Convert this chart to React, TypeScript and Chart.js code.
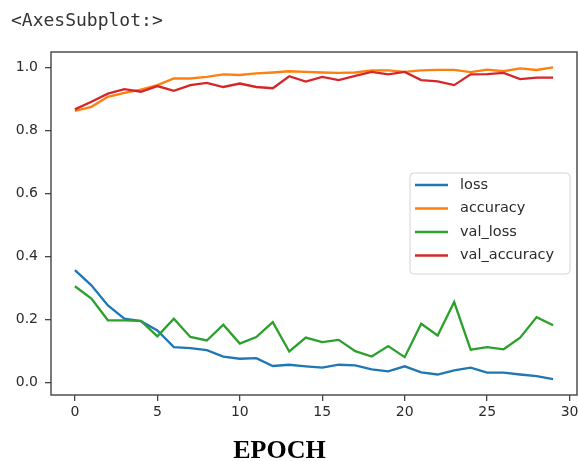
import React, { useEffect, useRef } from "react";
import { Chart, registerables } from "chart.js";

Chart.register(...registerables);

const EPOCHS = [0, 1, 2, 3, 4, 5, 6, 7, 8, 9, 10, 11, 12, 13, 14, 15, 16, 17, 18, 19, 20, 21, 22, 23, 24, 25, 26, 27, 28, 29];
const LOSS = [0.357, 0.309, 0.245, 0.203, 0.195, 0.166, 0.113, 0.110, 0.103, 0.083, 0.076, 0.078, 0.053, 0.057, 0.052, 0.048, 0.057, 0.055, 0.042, 0.036, 0.052, 0.033, 0.026, 0.039, 0.048, 0.032, 0.032, 0.026, 0.021, 0.011];
const ACCURACY = [0.862, 0.875, 0.907, 0.919, 0.930, 0.944, 0.965, 0.965, 0.970, 0.978, 0.976, 0.981, 0.984, 0.988, 0.986, 0.984, 0.983, 0.984, 0.991, 0.991, 0.986, 0.991, 0.992, 0.992, 0.985, 0.993, 0.988, 0.997, 0.992, 1.000];
const VAL_LOSS = [0.306, 0.267, 0.198, 0.198, 0.196, 0.147, 0.203, 0.145, 0.134, 0.184, 0.124, 0.145, 0.192, 0.099, 0.143, 0.129, 0.136, 0.100, 0.083, 0.116, 0.081, 0.187, 0.150, 0.256, 0.105, 0.113, 0.106, 0.143, 0.208, 0.182];
const VAL_ACCURACY = [0.867, 0.891, 0.917, 0.931, 0.923, 0.941, 0.926, 0.944, 0.951, 0.938, 0.949, 0.938, 0.934, 0.972, 0.955, 0.970, 0.960, 0.973, 0.986, 0.978, 0.986, 0.960, 0.956, 0.944, 0.978, 0.979, 0.983, 0.963, 0.968, 0.968];

const SERIES_NAMES = ["loss", "accuracy", "val_loss", "val_accuracy"];
const SERIES_VALUES = [LOSS, ACCURACY, VAL_LOSS, VAL_ACCURACY];
const SERIES_COLORS = ["#1f77b4", "#ff7f0e", "#2ca02c", "#d62728"];

const X_TICKS = [0, 5, 10, 15, 20, 25, 30];
const Y_TICKS = [0.0, 0.2, 0.4, 0.6, 0.8, 1.0];

const SPINE = "#444444";
const TICK_TEXT = "#2b2b2b";

const framePlugin = {
  id: "frameAndLegend",
  afterDraw(chart: any) {
    const { ctx, chartArea } = chart;
    const { left, top, right, bottom } = chartArea;
    ctx.save();
    ctx.strokeStyle = SPINE;
    ctx.lineWidth = 1.4;
    ctx.strokeRect(left, top, right - left, bottom - top);

    // legend (matplotlib "center right")
    const fontSize = 14.5;
    ctx.font = `${fontSize}px "DejaVu Sans"`;
    const rowH = 23.5;
    const boxW = 160;
    const boxH = 101;
    const bx = right - 7 - boxW;
    const by = (top + bottom) / 2 - boxH / 2;
    const r = 4;
    ctx.beginPath();
    ctx.moveTo(bx + r, by);
    ctx.lineTo(bx + boxW - r, by);
    ctx.quadraticCurveTo(bx + boxW, by, bx + boxW, by + r);
    ctx.lineTo(bx + boxW, by + boxH - r);
    ctx.quadraticCurveTo(bx + boxW, by + boxH, bx + boxW - r, by + boxH);
    ctx.lineTo(bx + r, by + boxH);
    ctx.quadraticCurveTo(bx, by + boxH, bx, by + boxH - r);
    ctx.lineTo(bx, by + r);
    ctx.quadraticCurveTo(bx, by, bx + r, by);
    ctx.closePath();
    ctx.fillStyle = "rgba(255,255,255,0.8)";
    ctx.fill();
    ctx.strokeStyle = "#d4d4d4";
    ctx.lineWidth = 1;
    ctx.stroke();

    ctx.textBaseline = "middle";
    ctx.textAlign = "left";
    SERIES_NAMES.forEach((name, i) => {
      const cy = by + 12 + i * rowH;
      ctx.strokeStyle = SERIES_COLORS[i];
      ctx.lineWidth = 2.3;
      ctx.beginPath();
      ctx.moveTo(bx + 5, cy);
      ctx.lineTo(bx + 38, cy);
      ctx.stroke();
      ctx.fillStyle = TICK_TEXT;
      ctx.fillText(name, bx + 50, cy);
    });
    ctx.restore();
  },
};

export default function App() {
  const ref = useRef<HTMLCanvasElement | null>(null);

  useEffect(() => {
    if (!ref.current) return;
    const chart = new Chart(ref.current, {
      type: "line",
      data: {
        datasets: SERIES_NAMES.map((name, i) => ({
          label: name,
          data: EPOCHS.map((e, k) => ({ x: e, y: SERIES_VALUES[i][k] })),
          borderColor: SERIES_COLORS[i],
          backgroundColor: SERIES_COLORS[i],
          borderWidth: 2.3,
          pointRadius: 0,
          tension: 0,
          fill: false,
          order: SERIES_NAMES.length - i,
        })),
      },
      options: {
        animation: false,
        responsive: false,
        devicePixelRatio: 1,
        layout: { padding: { left: 0, top: 52, right: 1, bottom: 0 } },
        plugins: {
          legend: { display: false },
          tooltip: { enabled: false },
          title: { display: false },
        },
        scales: {
          x: {
            type: "linear",
            min: -1.45,
            max: 30.45,
            afterBuildTicks: (scale: any) => {
              scale.ticks = X_TICKS.map((v) => ({ value: v }));
            },
            afterFit: (scale: any) => {
              scale.height = 66;
              scale.paddingLeft = 0;
              scale.paddingRight = 0;
            },
            border: { display: false },
            grid: {
              drawOnChartArea: false,
              drawTicks: true,
              tickLength: 6,
              color: SPINE,
              lineWidth: 1.3,
            },
            ticks: {
              autoSkip: false,
              maxRotation: 0,
              padding: 3,
              color: TICK_TEXT,
              font: { family: "DejaVu Sans", size: 14 },
              callback: (v: any) => String(v),
            },
          },
          y: {
            type: "linear",
            min: -0.039,
            max: 1.049,
            afterBuildTicks: (scale: any) => {
              scale.ticks = Y_TICKS.map((v) => ({ value: v }));
            },
            afterFit: (scale: any) => {
              scale.width = 51;
              scale.paddingTop = 0;
              scale.paddingBottom = 0;
            },
            border: { display: false },
            grid: {
              drawOnChartArea: false,
              drawTicks: true,
              tickLength: 6,
              color: SPINE,
              lineWidth: 1.3,
            },
            ticks: {
              autoSkip: false,
              padding: 7,
              color: TICK_TEXT,
              font: { family: "DejaVu Sans", size: 14 },
              callback: (v: any) => Number(v).toFixed(1),
            },
          },
        },
      },
      plugins: [framePlugin],
    });
    return () => chart.destroy();
  }, []);

  return (
    <div style={{ position: "absolute", left: 0, top: 0, width: 578, height: 461, background: "#fff", overflow: "hidden" }}>
      <canvas ref={ref} width={578} height={461} style={{ position: "absolute", left: 0, top: 0, width: 578, height: 461 }} />
      <div
        style={{
          position: "absolute",
          left: 11,
          top: 10.5,
          fontFamily: '"DejaVu Sans Mono", monospace',
          fontSize: 18,
          lineHeight: "18px",
          color: "#333",
          whiteSpace: "pre",
        }}
      >
        {"<AxesSubplot:>"}
      </div>
      <div
        style={{
          position: "absolute",
          left: 179.5,
          width: 200,
          top: 437,
          textAlign: "center",
          fontFamily: '"Liberation Serif", serif',
          fontWeight: "bold",
          fontSize: 26,
          lineHeight: "26px",
          color: "#000",
        }}
      >
        EPOCH
      </div>
    </div>
  );
}
